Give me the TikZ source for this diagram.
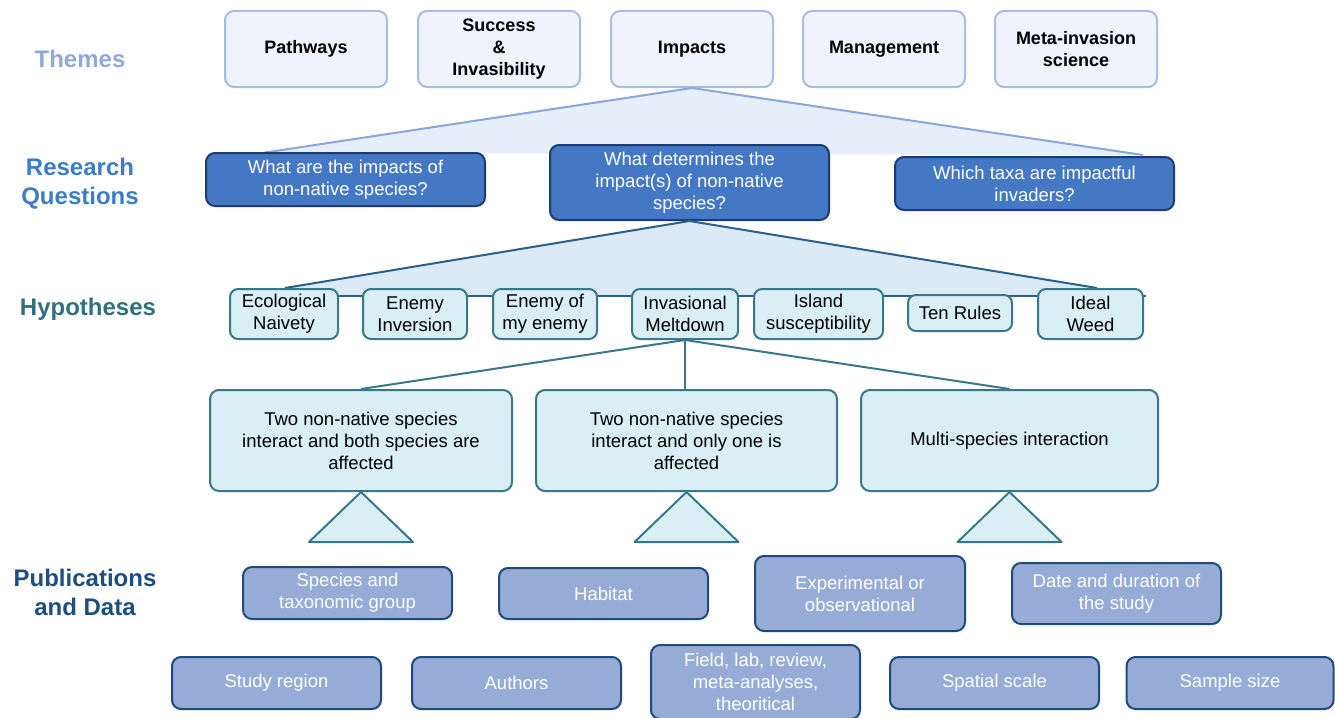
\documentclass[tikz,border=0pt]{standalone}
\usepackage{fontspec}
\setmainfont{Liberation Sans}
\definecolor{themeL}{HTML}{8FA9DB}
\definecolor{rqL}{HTML}{3B7DC9}
\definecolor{hypL}{HTML}{2F6F7F}
\definecolor{pubL}{HTML}{1D4E82}
\definecolor{thFill}{HTML}{EEF3FC}
\definecolor{thDraw}{HTML}{A7BDE4}
\definecolor{triOneFill}{HTML}{E6EEF9}
\definecolor{triOneLine}{HTML}{8AA6DA}
\definecolor{rqFill}{HTML}{4477C4}
\definecolor{rqDraw}{HTML}{1B3C78}
\definecolor{triTwoFill}{HTML}{DCE9F7}
\definecolor{triTwoLine}{HTML}{2B5F8C}
\definecolor{hypFill}{HTML}{D9EFF5}
\definecolor{hypDraw}{HTML}{38788A}
\definecolor{pubFill}{HTML}{96ABD5}
\definecolor{pubDraw}{HTML}{1E4B7D}
\tikzset{
  bx/.style={rounded corners=9pt, line width=2pt, align=center, inner sep=2pt,
    font=\fontsize{18.5}{22}\selectfont},
  thbox/.style={bx, fill=thFill, draw=thDraw, minimum width=162pt, minimum height=76pt,
    font=\fontsize{18}{22}\selectfont\bfseries},
  rqbox/.style={bx, fill=rqFill, draw=rqDraw, text=white, minimum width=279pt},
  hypbox/.style={bx, fill=hypFill, draw=hypDraw, minimum height=50pt, rounded corners=8pt},
  lvbox/.style={bx, fill=hypFill, draw=hypDraw, minimum height=101pt},
  pubbox/.style={bx, fill=pubFill, draw=pubDraw, text=white, minimum width=209pt, minimum height=52pt},
  lbl/.style={align=center, font=\fontsize{24}{29}\selectfont\bfseries},
  tri/.style={fill=hypFill, draw=hypDraw, line width=2pt, line join=round},
}
\begin{document}
\begin{tikzpicture}[x=1pt,y=-1pt]
\useasboundingbox (0,0) rectangle (1335,717);

% left labels
\node[lbl, text=themeL] (lt) at (80,59) {Themes};
\node[lbl, text=rqL] (lr) at (80,184) {Research\\Questions};
\node[lbl, text=hypL] (lh) at (88,309) {Hypotheses};
\node[lbl, text=pubL] (lp) at (85,592) {Publications\\and Data};

% theme boxes
\node[thbox] (pat) at (306,49) {Pathways};
\node[thbox] (suc) at (499,49) {Success\\\&\\Invasibility};
\node[thbox] (imp) at (692,49) {Impacts};
\node[thbox] (man) at (884,49) {Management};
\node[thbox] (met) at (1076,49) {Meta-invasion\\science};

% triangle 1
\coordinate (t1l) at (262,153);
\coordinate (t1r) at (1143,155);
\fill[triOneFill] (imp.south) -- (t1l) -- (t1r) -- cycle;
\draw[triOneLine, line width=2pt] (t1l) -- (imp.south) -- (t1r);

% research question boxes
\node[rqbox, minimum height=53pt] (rq1) at (345.5,179.5) {What are the impacts of\\non-native species?};
\node[rqbox, minimum height=75pt] (rq2) at (689.5,182.5) {What determines the\\impact(s) of non-native\\species?};
\node[rqbox, minimum height=53pt] (rq3) at (1034.5,183.5) {Which taxa are impactful\\invaders?};

% triangle 2
\coordinate (t2l) at (285,288);
\coordinate (t2r) at (1097,288);
\coordinate (hl) at (285,296);
\coordinate (hr) at (1146,296);
\fill[triTwoFill] (rq2.south) -- (t2l) -- (hl) -- (1097,296) -- (t2r) -- cycle;
\draw[triTwoLine, line width=2pt] (t2l) -- (rq2.south) -- (t2r);
\draw[triTwoLine, line width=2pt] (hl) -- (hr);

% hypotheses boxes
\node[hypbox, minimum width=108pt] (eco) at (284,314) {Ecological\\Naivety};
\node[hypbox, minimum width=104pt] (eni) at (415,314) {Enemy\\Inversion};
\node[hypbox, minimum width=104pt] (enm) at (545,314) {Enemy of\\my enemy};
\node[hypbox, minimum width=106pt] (mel) at (685,314) {Invasional\\Meltdown};
\node[hypbox, minimum width=129pt] (isl) at (818.5,314) {Island\\susceptibility};
\node[hypbox, minimum width=104pt, minimum height=36pt] (ten) at (960,313) {Ten Rules};
\node[hypbox, minimum width=105pt] (ide) at (1090.5,314) {Ideal\\Weed};

% level 4 boxes
\node[lvbox, minimum width=302pt] (b1) at (361,440.5) {Two non-native species\\interact and both species are\\affected};
\node[lvbox, minimum width=301pt] (b2) at (686.5,440.5) {Two non-native species\\interact and only one is\\affected};
\node[lvbox, minimum width=297pt] (b3) at (1009.5,440.5) {Multi-species interaction};

\draw[hypDraw, line width=2pt] (b1.north) -- (mel.south) -- (b3.north);
\draw[hypDraw, line width=2pt] (mel.south) -- (mel.south |- b2.north);

% small triangles
\draw[tri] (b1.south) -- ([xshift=-52pt,yshift=-50pt]b1.south) -- ([xshift=52pt,yshift=-50pt]b1.south) -- cycle;
\draw[tri] (b2.south) -- ([xshift=-52pt,yshift=-50pt]b2.south) -- ([xshift=52pt,yshift=-50pt]b2.south) -- cycle;
\draw[tri] (b3.south) -- ([xshift=-52pt,yshift=-50pt]b3.south) -- ([xshift=52pt,yshift=-50pt]b3.south) -- cycle;

% publication boxes
\node[pubbox] (spe) at (347.5,593) {Species and\\taxonomic group};
\node[pubbox, minimum height=51pt] (hab) at (603.5,593.5) {Habitat};
\node[pubbox, minimum width=210pt, minimum height=75pt] (exp) at (860,593.5) {Experimental or\\observational};
\node[pubbox, minimum height=61pt] (dat) at (1116.5,593.5) {Date and duration of\\the study};
\node[pubbox] (stu) at (276.5,683) {Study region};
\node[pubbox] (aut) at (516.5,683) {Authors};
\node[pubbox, minimum height=74pt] (fie) at (755.5,682) {Field, lab, review,\\meta-analyses,\\theoritical};
\node[pubbox] (spa) at (994.5,683) {Spatial scale};
\node[pubbox, minimum width=207pt] (sam) at (1230,683) {Sample size};
\end{tikzpicture}
\end{document}
